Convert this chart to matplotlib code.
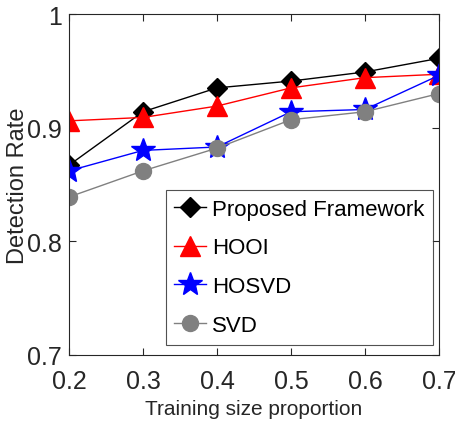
import matplotlib
matplotlib.use('Agg')
import matplotlib.pyplot as plt

# Данные
train_size = [0.2, 0.3, 0.4, 0.5, 0.6, 0.7]
proposed = [0.867, 0.914, 0.935, 0.941, 0.949, 0.961]
hooi = [0.906, 0.909, 0.919, 0.935, 0.944, 0.947]
hosvd = [0.862, 0.880, 0.883, 0.914, 0.916, 0.946]
svd = [0.839, 0.862, 0.882, 0.907, 0.914, 0.930]

plt.rcParams['font.family'] = ['Liberation Sans', 'DejaVu Sans']

fig = plt.figure(figsize=(4.55, 4.39), dpi=100)
ax = fig.add_axes([69 / 455, 1 - 356 / 439, 370 / 455, 341 / 439])

ax.plot(train_size, proposed, color='black', lw=1, marker='D', ms=10, mfc='black', mec='black', label='Proposed Framework')
ax.plot(train_size, hooi, color='red', lw=1, marker='^', ms=14, mfc='red', mec='red', label='HOOI')
ax.plot(train_size, hosvd, color='blue', lw=1, marker='*', ms=18, mfc='blue', mec='blue', label='HOSVD')
ax.plot(train_size, svd, color='gray', lw=1, marker='o', ms=11.5, mfc='gray', mec='gray', label='SVD')

ax.set_xlim(0.2, 0.7)
ax.set_ylim(0.7, 1.0)
ax.set_xticks(train_size)
ax.set_xticklabels(['0.2', '0.3', '0.4', '0.5', '0.6', '0.7'])
ax.set_yticks([0.7, 0.8, 0.9, 1.0])
ax.set_yticklabels(['0.7', '0.8', '0.9', '1'])
ax.tick_params(direction='in', labelsize=18, length=5, colors='#262626', top=True, right=True)
ax.tick_params(axis='x', pad=10)
ax.tick_params(axis='y', pad=5)
for s in ax.spines.values():
    s.set_color('#262626')
    s.set_linewidth(0.8)

ax.set_xlabel('Training size proportion', fontsize=15, color='#262626')
ax.xaxis.set_label_coords(0.5, -(410 - 356) / 341, transform=ax.transAxes)
ax.xaxis.label.set_va('center')
ax.set_ylabel('Detection Rate', fontsize=17, color='#262626')
ax.yaxis.set_label_coords(-(69 - 18) / 370, 0.5, transform=ax.transAxes)
ax.yaxis.label.set_va('center')

leg = ax.legend(loc='lower right', bbox_to_anchor=(0.985, 0.03), fontsize=16, frameon=True, fancybox=False,
                edgecolor='#262626', handlelength=1.4, handletextpad=0.3, borderpad=0.4, labelspacing=0.8,
                borderaxespad=0)
leg.get_frame().set_linewidth(0.8)

fig.savefig('out.png', dpi=100, facecolor='white')
